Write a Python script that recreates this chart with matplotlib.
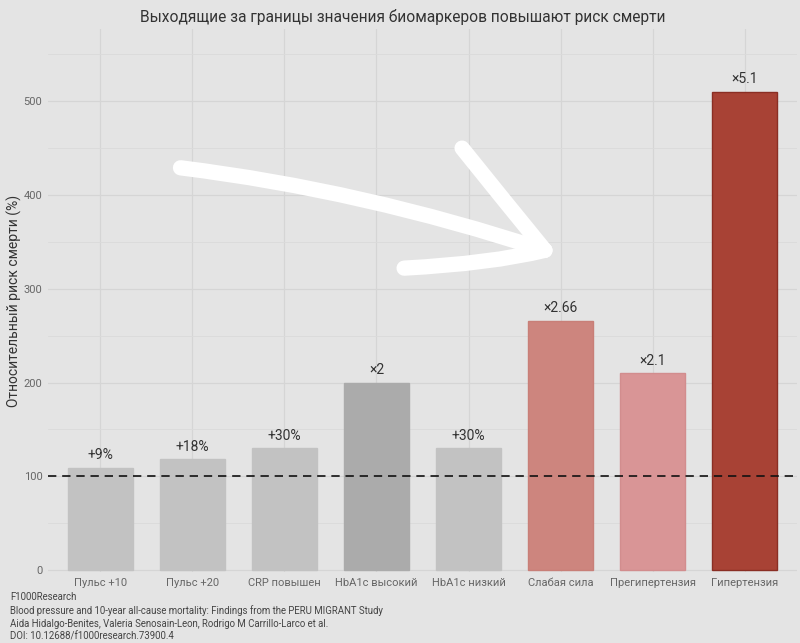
import matplotlib
matplotlib.use("Agg")
import matplotlib.pyplot as plt
from matplotlib.path import Path
from matplotlib.patches import PathPatch

plt.rcParams['font.family'] = ['Roboto', 'DejaVu Sans']

categories = ["Пульс +10", "Пульс +20", "CRP повышен", "HbA1c высокий",
              "HbA1c низкий", "Слабая сила", "Прегипертензия", "Гипертензия"]
values = [109, 118, 130, 200, 130, 266, 210, 510]
labels = ["+9%", "+18%", "+30%", "×2", "+30%", "×2.66", "×2.1", "×5.1"]
colors = ["#c2c2c2", "#c2c2c2", "#c2c2c2", "#ababab", "#c2c2c2",
          "#cd857e", "#d99596", "#a84235"]
edges = ["#c2c2c2", "#c2c2c2", "#c2c2c2", "#ababab", "#c2c2c2",
         "#c87f78", "#d28d8e", "#8a2e24"]
yticks = [0, 100, 200, 300, 400, 500]
baseline = 100
title = "Выходящие за границы значения биомаркеров повышают риск смерти"
ylabel = "Относительный риск смерти (%)"
caption = ("F1000Research\n"
           "Blood pressure and 10-year all-cause mortality: Findings from the PERU MIGRANT Study\n"
           "Aida Hidalgo-Benites, Valeria Senosain-Leon, Rodrigo M Carrillo-Larco et al.\n"
           "DOI: 10.12688/f1000research.73900.4")

# hand-drawn arrow annotation (data coordinates): start, control, end
arrow_shaft = [(0.87, 429), (2.85, 405), (4.83, 341)]
arrow_head_up = [(4.83, 341), (4.38, 395), (3.93, 450)]
arrow_head_low = [(4.83, 341), (4.25, 327), (3.30, 322)]

bg = "#e4e4e4"
fig = plt.figure(figsize=(8, 6.43), dpi=100, facecolor=bg)
ax = fig.add_axes([48/800, 1 - 572/643, (797-48)/800, (572-29)/643])
ax.set_facecolor(bg)

x = list(range(len(categories)))
ax.bar(x, values, width=0.7, color=colors, edgecolor=edges, linewidth=1.0, zorder=2)
for xi, v, lab in zip(x, values, labels):
    ax.text(xi, v + 6, lab, ha="center", va="bottom", fontsize=10, color="#333333", zorder=4)

ax.axhline(baseline, color="#111111", linestyle=(0, (5, 3.5)), linewidth=1.2, zorder=3)

ax.set_xlim(-0.57, len(categories) - 0.43)
ax.set_ylim(-2, 577)
ax.set_xticks(x)
ax.set_xticklabels(categories, fontsize=8, color="#666666")
ax.set_yticks(yticks)
ax.set_yticklabels([str(t) for t in yticks], fontsize=8, color="#666666")
ax.set_yticks([50, 150, 250, 350, 450, 550], minor=True)
ax.tick_params(axis="both", which="both", length=0, pad=4)
ax.grid(True, which="major", color="#d5d5d5", linewidth=0.9, zorder=0)
ax.grid(True, which="minor", axis="y", color="#dadada", linewidth=0.6, zorder=0)
ax.set_axisbelow(True)
for s in ax.spines.values():
    s.set_visible(False)
ax.set_ylabel(ylabel, fontsize=10, color="#333333")
ax.yaxis.set_label_coords(-0.035, 0.5)

fig.text(0.503, 1 - 17/643, title, ha="center", va="center", fontsize=11.2, color="#333333")
fig.text(10/800, 1 - 592/643, caption, ha="left", va="top", fontsize=6.9,
         color="#444444", linespacing=1.35)

# arrow
def draw_curve(pts):
    codes = [Path.MOVETO, Path.CURVE3, Path.CURVE3]
    ax.add_patch(PathPatch(Path(pts, codes), fill=False, edgecolor="white",
                           linewidth=11, capstyle="round", joinstyle="round", zorder=5))

draw_curve(arrow_shaft)
draw_curve(arrow_head_up)
draw_curve(arrow_head_low)

fig.savefig("out.png", dpi=100, facecolor=bg)
